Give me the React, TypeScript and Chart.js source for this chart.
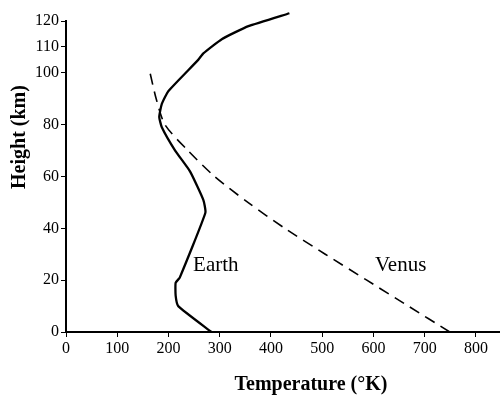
import { useEffect, useRef } from "react";
import { Chart, registerables } from "chart.js";

Chart.register(...registerables);

// Earth temperature profile (temperature in K, height in km)
const earthTemp = [284, 219, 214, 214, 222, 272, 268, 242, 213, 187, 182, 187, 200, 258, 268, 304, 356, 436];
const earthHeight = [0, 10, 14, 19, 21, 46, 51, 62, 70, 79, 83, 88, 93, 105, 107.5, 113, 118, 123];

// Venus temperature profile
const venusTemp = [749, 668, 587, 506, 427, 355, 290, 238, 193, 176, 164];
const venusHeight = [0, 10, 20, 30, 40, 50, 60, 70, 80, 90, 100];

// Axis ticks
const xTicks = [0, 100, 200, 300, 400, 500, 600, 700, 800];
const yTicks = [0, 20, 40, 60, 80, 100, 110, 120];

// In-plot series labels (data coordinates)
const seriesLabels = ["Earth", "Venus"];
const labelTemp = [248, 603];
const labelHeight = [23.5, 23.5];

const xTitle = "Temperature (\u00B0K)";
const yTitle = "Height (km)";

const FONT = "'Liberation Serif', 'Times New Roman', serif";

export default function App() {
  const ref = useRef<HTMLCanvasElement | null>(null);

  useEffect(() => {
    document.body.style.margin = "0";
    const canvas = ref.current;
    if (!canvas) return;

    const textPlugin = {
      id: "textPlugin",
      afterDatasetsDraw(chart: any) {
        const { ctx, scales } = chart;
        ctx.save();
        ctx.fillStyle = "#000";
        ctx.font = `21px ${FONT}`;
        ctx.textAlign = "left";
        ctx.textBaseline = "alphabetic";
        seriesLabels.forEach((t, i) => {
          ctx.fillText(t, scales.x.getPixelForValue(labelTemp[i]), scales.y.getPixelForValue(labelHeight[i]));
        });
        ctx.font = `bold 20px ${FONT}`;
        ctx.textAlign = "center";
        ctx.textBaseline = "middle";
        ctx.fillText(xTitle, 311, 385);
        ctx.translate(20, 137);
        ctx.rotate(-Math.PI / 2);
        ctx.fillText(yTitle, 0, 0);
        ctx.restore();
      },
    };

    const chart = new Chart(canvas, {
      type: "scatter",
      data: {
        datasets: [
          {
            label: "Earth",
            data: earthTemp.map((t, i) => ({ x: t, y: earthHeight[i] })),
            showLine: true,
            borderColor: "#000",
            borderWidth: 2.3,
            pointRadius: 0,
            tension: 0.15,
            clip: false as any,
          },
          {
            label: "Venus",
            data: venusTemp.map((t, i) => ({ x: t, y: venusHeight[i] })),
            showLine: true,
            borderColor: "#000",
            borderWidth: 1.6,
            borderDash: [11, 7],
            pointRadius: 0,
            tension: 0.25,
          },
        ],
      },
      options: {
        responsive: false,
        animation: false,
        layout: { padding: { top: 21, right: 0, left: 0, bottom: 0 } },
        plugins: {
          legend: { display: false },
          tooltip: { enabled: false },
        },
        scales: {
          x: {
            type: "linear",
            min: 0,
            max: 847,
            afterBuildTicks: (scale: any) => {
              scale.ticks = xTicks.map((v) => ({ value: v }));
            },
            afterFit: (scale: any) => {
              scale.height = 63;
            },
            grid: {
              display: true,
              drawOnChartArea: false,
              drawTicks: true,
              tickLength: 5,
              color: "#000",
              lineWidth: 1,
            },
            border: { display: true, color: "#000", width: 2 },
            ticks: {
              color: "#000",
              font: { family: FONT, size: 16 },
              padding: 2,
              maxRotation: 0,
              autoSkip: false,
            },
          },
          y: {
            type: "linear",
            min: 0,
            max: 120,
            afterBuildTicks: (scale: any) => {
              scale.ticks = yTicks.map((v) => ({ value: v }));
            },
            afterFit: (scale: any) => {
              scale.width = 66;
            },
            grid: {
              display: true,
              drawOnChartArea: false,
              drawTicks: true,
              tickLength: 5,
              color: "#000",
              lineWidth: 1,
            },
            border: { display: true, color: "#000", width: 2 },
            ticks: {
              color: "#000",
              font: { family: FONT, size: 16 },
              padding: 2,
              autoSkip: false,
            },
          },
        },
      },
      plugins: [textPlugin],
    });

    return () => chart.destroy();
  }, []);

  return (
    <div style={{ width: 500, height: 395 }}>
      <canvas ref={ref} width={500} height={395} style={{ display: "block" }} />
    </div>
  );
}
